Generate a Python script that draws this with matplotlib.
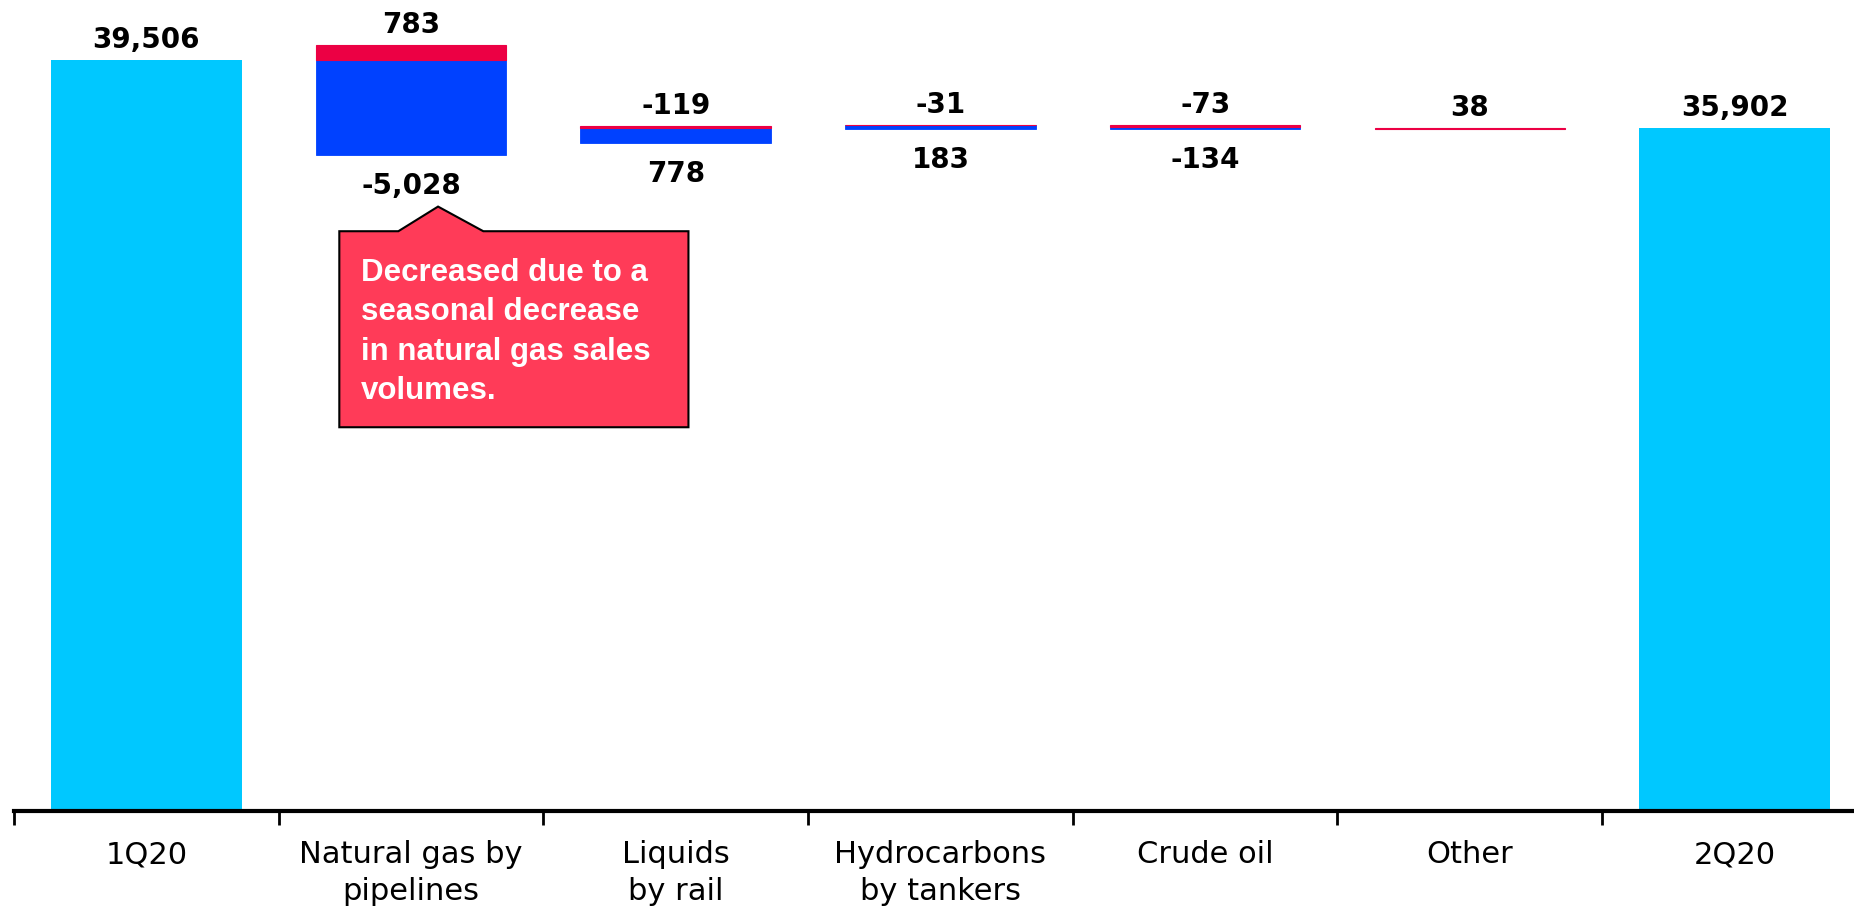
import matplotlib.pyplot as plt
from matplotlib.patches import Polygon

# quarter-on-quarter bridge, two drivers per category (red / blue)
categories = ['1Q20', 'Natural gas by\npipelines', 'Liquids\nby rail',
              'Hydrocarbons\nby tankers', 'Crude oil', 'Other', '2Q20']
start_total = 39506
end_total = 35902
red_vals = [783, -119, -31, -73, 38]
blue_vals = [-5028, 778, 183, -134, 0]
note = 'Decreased due to a\nseasonal decrease\nin natural gas sales\nvolumes.'

cyan = '#00C8FF'
blue = '#0041FF'
red = '#EC0044'
note_color = '#FF3B58'

fig = plt.figure(figsize=(18.54, 9.11), dpi=100)
ax = fig.add_axes([14 / 1854, 100 / 911, 1 - 14 / 1854, 811 / 911])

w = 0.72
lab_font = dict(fontsize=20, fontweight='bold', family='DejaVu Sans')

def put(x, y, txt, up=True):
    ax.annotate(txt, (x, y), xytext=(0, 20 if up else -31),
                textcoords='offset pixels', ha='center', va='center', **lab_font)

# totals
for i, v in [(0, start_total), (6, end_total)]:
    ax.bar(i, v, width=w, color=cyan)
    put(i, v, f'{v:,}')

level = start_total
for k, (r, b) in enumerate(zip(red_vals, blue_vals)):
    i = k + 1
    bottom = level + min(r, 0) + min(b, 0)
    ax.bar(i, abs(b), bottom=bottom, width=w, color=blue, edgecolor=blue, linewidth=0.6)
    ax.bar(i, abs(r), bottom=bottom + abs(b), width=w, color=red, edgecolor=red, linewidth=0.8)
    top = bottom + abs(b) + abs(r)
    put(i, top, f'{r:,}')
    if b != 0:
        put(i, bottom, f'{b:,}', up=False)
    level += r + b

# callout under the natural gas bar
ng_bottom = start_total + min(red_vals[0], 0) + min(blue_vals[0], 0)
apex_y = ng_bottom - 2700
box_top = apex_y - 1300
box_bot = box_top - 10340
pts = [(0.729, box_top), (0.952, box_top), (1.102, apex_y), (1.273, box_top),
       (2.048, box_top), (2.048, box_bot), (0.729, box_bot)]
ax.add_patch(Polygon(pts, closed=True, facecolor=note_color, edgecolor='black',
                     linewidth=1.5, zorder=3))
ax.text(0.812, (box_top + box_bot) / 2 - 150, note, color='white', fontsize=22.5,
        fontweight='bold', family='Liberation Sans', ha='left', va='center',
        linespacing=1.4, zorder=4)

ax.set_xlim(-0.5, -0.5 + 1840 / 264.7)
ax.set_ylim(-105, 42675)
for s in ['top', 'right', 'left']:
    ax.spines[s].set_visible(False)
ax.spines['bottom'].set_linewidth(3)
ax.set_yticks([])
ax.set_xticks(range(7))
ax.set_xticklabels(categories, fontsize=22, family='DejaVu Sans', linespacing=1.35)
ax.tick_params(axis='x', which='major', length=0, pad=21)
ax.set_xticks([i - 0.5 for i in range(7)], minor=True)
ax.tick_params(axis='x', which='minor', length=10, width=2, direction='out')

fig.savefig('out.png', dpi=100)
